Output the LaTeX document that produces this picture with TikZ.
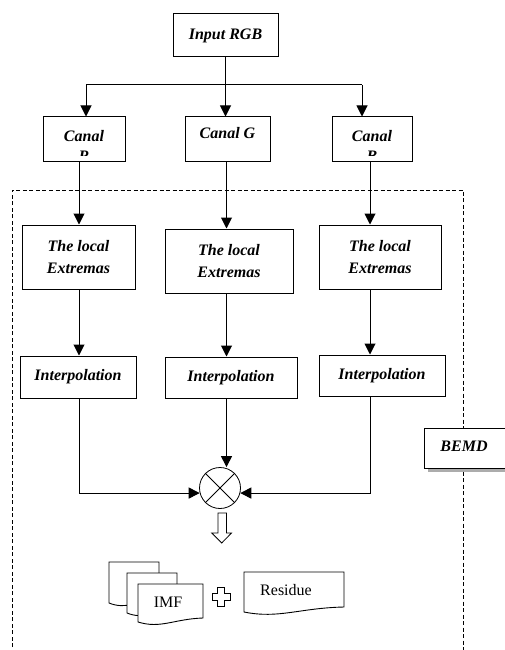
\documentclass[tikz,border=0pt]{standalone}
\usepackage{fontspec}
\setmainfont{Liberation Serif}
\usetikzlibrary{arrows.meta}
\newcommand\docshape[5]{%
  \draw[docst] (#1,#4) -- (#1,#2) -- (#3,#2) -- (#3,#5)
    .. controls ({#1+0.55*(#3-#1)},{#5+1}) and ({#1+0.35*(#3-#1)},{#4+7}) .. (#1,#4) -- cycle;}
\begin{document}
\begin{tikzpicture}[x=1pt,y=-1pt,
  box/.style={draw, line width=1pt, fill=white, inner sep=0pt, align=center,
    font=\fontsize{16}{22}\selectfont\bfseries\itshape},
  txt/.style={inner sep=0pt, font=\fontsize{16}{22}\selectfont\bfseries\itshape},
  rtxt/.style={inner sep=0pt, font=\fontsize{16}{20}\selectfont},
  arr/.style={line width=1pt, -{Triangle[length=11pt,width=11pt]}},
  docst/.style={draw, line width=0.9pt, fill=white},
  dsh/.style={line width=0.9pt, dash pattern=on 4pt off 2.5pt}]
\clip (0,0) rectangle (505,650);
% dashed BEMD frame
\draw[dsh] (12,660) -- (12,190) -- (463,190) -- (463,660);
% column coordinates
\coordinate (j) at (225.5,85);
\coordinate (aR) at (86,0);
\coordinate (aB) at (362,0);
\coordinate (c1) at (79,0);
\coordinate (c2) at (226.5,0);
\coordinate (c3) at (370,0);
% top boxes
\node[box, minimum width=105, minimum height=43] (inp) at (225.5,35.5) {Input RGB};
\node[box, minimum width=82, minimum height=44] (canalR) at (84,139) {};
\node[box, minimum width=85, minimum height=44] (canalG) at (227.5,139) {};
\node[box, minimum width=80, minimum height=44] (canalB) at (372,139) {};
\node[txt, anchor=base] (tG) at (227.5,139) {Canal G};
\node[txt, anchor=base] (tR) at (84,142) {Canal};
\node[txt, anchor=base] (tB) at (372,142) {Canal};
\begin{scope}
  \clip (43,117) rectangle (125,155.5);
  \node[txt, anchor=base] (tR2) at (84,161) {R};
\end{scope}
\begin{scope}
  \clip (332,117) rectangle (412,155.5);
  \node[txt, anchor=base] (tB2) at (372,161) {B};
\end{scope}
% extremas
\node[box, minimum width=113, minimum height=64] (ext1) at (78.5,257) {The local\\Extremas};
\node[box, minimum width=128, minimum height=64] (ext2) at (229,261) {The local\\Extremas};
\node[box, minimum width=122, minimum height=64] (ext3) at (380,257) {The local\\Extremas};
% interpolation
\node[box, minimum width=116, minimum height=42] (int1) at (78,377) {Interpolation};
\node[box, minimum width=132, minimum height=41] (int2) at (231,377.5) {Interpolation};
\node[box, minimum width=126, minimum height=41] (int3) at (382,375.5) {Interpolation};
% multiplier
\node[circle, draw, line width=0.8pt, minimum size=41, inner sep=0pt] (mul) at (220,488) {};
\draw[line width=0.8pt] (mul.north west) -- (mul.south east) (mul.north east) -- (mul.south west);
% connectors
\draw[arr] (inp.south) -- (inp.south |- canalG.north);
\draw[line width=1pt] (aR |- j) -- (aB |- j);
\draw[arr] (aR |- j) -- (aR |- canalR.north);
\draw[arr] (aB |- j) -- (aB |- canalB.north);
\draw[arr] (canalR.south -| c1) -- (ext1.north -| c1);
\draw[arr] (canalG.south -| c2) -- (ext2.north -| c2);
\draw[arr] (canalB.south -| c3) -- (ext3.north -| c3);
\draw[arr] (ext1.south -| c1) -- (int1.north -| c1);
\draw[arr] (ext2.south -| c2) -- (int2.north -| c2);
\draw[arr] (ext3.south -| c3) -- (int3.north -| c3);
\draw[arr] (int1.south -| c1) |- (mul.194);
\draw[arr] (int3.south -| c3) |- (mul.-14);
\draw[arr] (int2.south -| c2) -- (mul.north -| c2);
% hollow arrow
\draw[line width=0.8pt, fill=white] (218,513) -- (226.5,513) -- (226.5,533) -- (231.5,533)
  -- (221.7,543) -- (211.7,533) -- (218,533) -- cycle;
% IMF stack
\docshape{109}{562}{159}{603}{600}
\docshape{127}{573}{177}{613}{610}
\docshape{138}{584}{203}{622}{618}
\node[rtxt] (imf) at (168,602) {IMF};
% plus
\draw[line width=0.8pt, fill=white] (217.5,587) -- (224.5,587) -- (224.5,593.5) -- (230,593.5)
  -- (230,600.5) -- (224.5,600.5) -- (224.5,606) -- (217.5,606) -- (217.5,600.5)
  -- (212,600.5) -- (212,593.5) -- (217.5,593.5) -- cycle;
% residue
\docshape{244}{572}{344}{612}{607}
\node[rtxt] (res) at (286,590) {Residue};
% BEMD
\fill[gray!65] (428,432) rectangle (520,472);
\node[box, anchor=north west, minimum width=100, minimum height=40] (bemd) at (424,428) {};
\node[txt] (tbemd) at (464,446) {BEMD};
\end{tikzpicture}
\end{document}
